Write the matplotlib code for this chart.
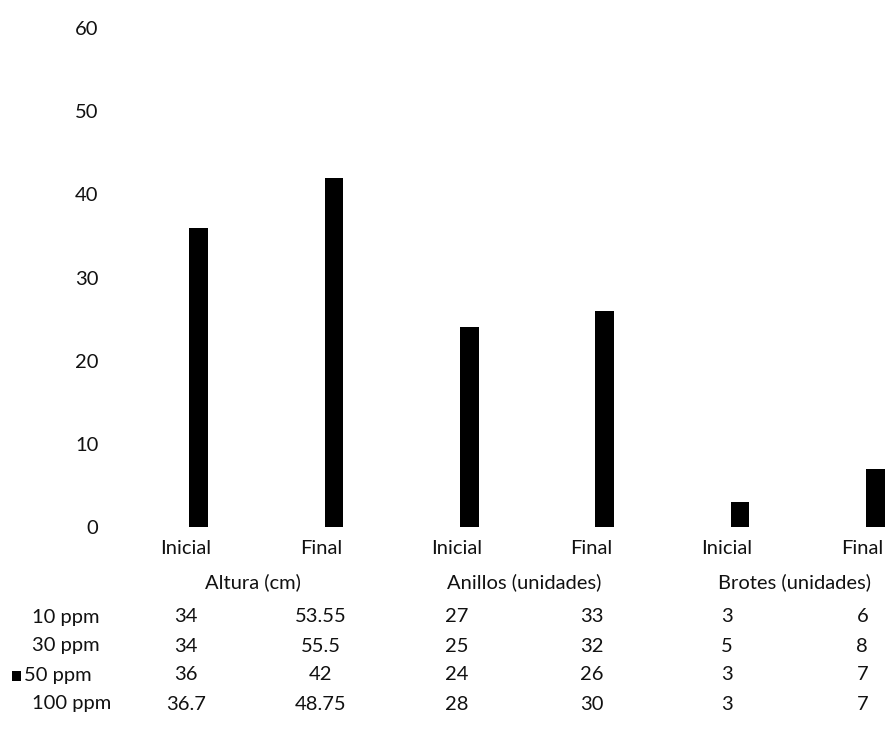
import numpy as np
import matplotlib
matplotlib.use('Agg')
import matplotlib.pyplot as plt
from matplotlib.transforms import blended_transform_factory
from matplotlib.patches import Rectangle

plt.rcParams['font.family'] = ['Lato', 'DejaVu Sans']

groups = ['Altura (cm)', 'Anillos (unidades)', 'Brotes (unidades)']
stages = ['Inicial', 'Final']
series = ['10 ppm', '30 ppm', '50 ppm', '100 ppm']
values = {
    '10 ppm': [34, 53.55, 27, 33, 3, 6],
    '30 ppm': [34, 55.5, 25, 32, 5, 8],
    '50 ppm': [36, 42, 24, 26, 3, 7],
    '100 ppm': [36.7, 48.75, 28, 30, 3, 7],
}
# only the 50 ppm series shows up in the print, the rest come out white
colors = {'10 ppm': 'white', '30 ppm': 'white', '50 ppm': 'black', '100 ppm': 'white'}

text_color = '#111111'
fs = 14.5

fig = plt.figure(figsize=(8.9, 7.39), dpi=100)
W, H = 890, 739
# axes runs past the right edge, the last slot is cut off
ax = fig.add_axes([118 / W, (H - 527) / H, (930 - 118) / W, (527 - 28) / H])

x = np.arange(len(groups) * len(stages))
width = 0.138
step = 0.192
for i, name in enumerate(series):
    ax.bar(x + (i - 1.5) * step, values[name], width=width, color=colors[name], zorder=2)

ax.set_xlim(-0.5, len(x) - 0.5)
ax.set_ylim(0, 60)
ax.set_yticks(np.arange(0, 61, 10))
ax.set_xticks(x)
ax.set_xticklabels(stages * len(groups))
ax.tick_params(length=0, labelsize=fs, colors=text_color)
ax.tick_params(axis='y', pad=14)
ax.tick_params(axis='x', pad=9)
for s in ax.spines.values():
    s.set_visible(False)

# data table underneath: group names and one row per series
tr = blended_transform_factory(ax.transData, fig.transFigure)
for g, name in enumerate(groups):
    ax.text(2 * g + 0.5, (H - 582) / H, name, transform=tr, ha='center', va='center',
            fontsize=fs, color=text_color)

row_y = [617, 646, 675, 704]
row_x = [32, 32, 24, 32]
for name, xx, yy in zip(series, row_x, row_y):
    fig.text(xx / W, (H - yy) / H, name, ha='left', va='center', fontsize=fs, color=text_color)
    for xi, v in zip(x, values[name]):
        ax.text(xi, (H - yy) / H, '{:g}'.format(v), transform=tr, ha='center', va='center',
                fontsize=fs, color=text_color)

# legend key in front of the 50 ppm row
fig.patches.append(Rectangle((12 / W, (H - 681) / H), 9 / W, 10 / H, transform=fig.transFigure,
                             facecolor='black', edgecolor='none'))

fig.savefig('out.png', dpi=100)
